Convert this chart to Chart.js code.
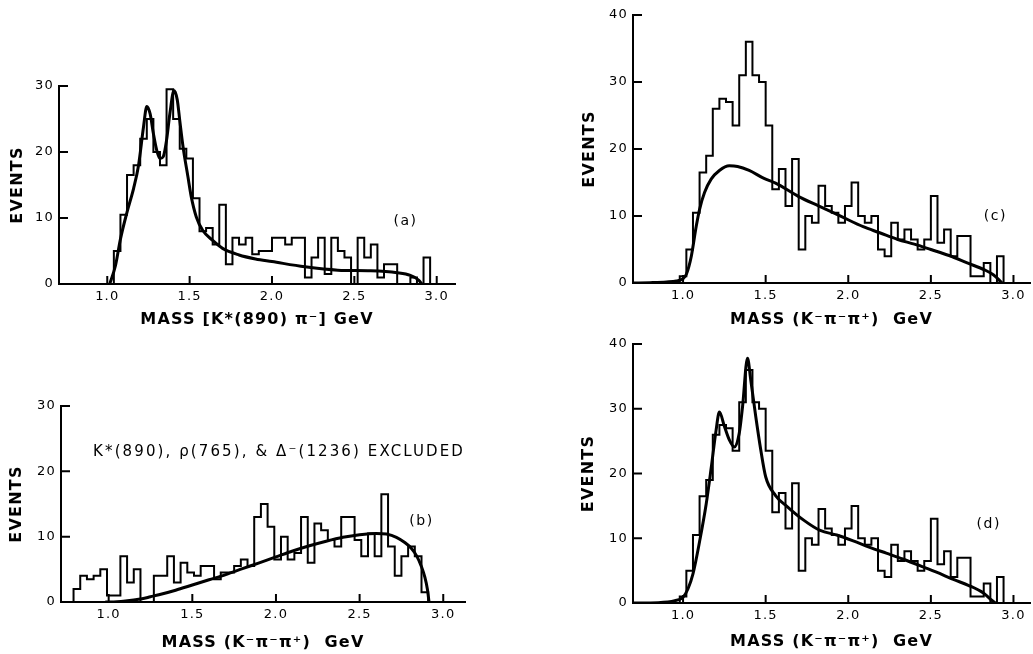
<!DOCTYPE html>
<html>
<head>
<meta charset="utf-8">
<script src="https://cdn.jsdelivr.net/npm/chart.js@4/dist/chart.umd.min.js"></script>
<style>
html, body { margin: 0; padding: 0; background: #fff; }
body { width: 1033px; height: 654px; position: relative; overflow: hidden; }
.panel { position: absolute; }
canvas { display: block; }
</style>
</head>
<body>
<div class="panel" style="left:0px;top:60px;"><canvas id="chartA" width="475" height="275"></canvas></div>
<div class="panel" style="left:560px;top:0px;"><canvas id="chartC" width="473" height="335"></canvas></div>
<div class="panel" style="left:0px;top:380px;"><canvas id="chartB" width="475" height="274"></canvas></div>
<div class="panel" style="left:560px;top:320px;"><canvas id="chartD" width="473" height="334"></canvas></div>
<script>
// ---------------- DATA ----------------
const binWidth = 0.04;                      // GeV per bin
const xTickValues = [1.0, 1.5, 2.0, 2.5, 3.0];
const yTicks30 = [0, 10, 20, 30];
const yTicks40 = [0, 10, 20, 30, 40];

// (a) K*(890) pi- mass
const aBinStart = 1.04;
const aCounts = [5, 10.5, 16.5, 18, 22, 25, 20, 18, 29.5, 25, 20.5, 19, 13, 8, 8.5, 6, 12, 3, 7, 6,
                 7, 4.5, 5, 5, 7, 7, 6, 7, 7, 1, 4, 7, 1.5, 7, 5, 4, 0, 7, 4, 6,
                 1, 3, 3, 0, 0, 1, 0, 4];
const aCurveX = [1.015, 1.05, 1.08, 1.12, 1.16, 1.19, 1.22, 1.24, 1.26, 1.28, 1.30, 1.32, 1.34, 1.36, 1.38,
                 1.405, 1.425, 1.44, 1.46, 1.49, 1.51, 1.54, 1.58, 1.64, 1.70, 1.80, 1.90, 2.00, 2.20, 2.40,
                 2.60, 2.76, 2.84, 2.89, 2.91];
const aCurveY = [0, 2.8, 6.8, 10.9, 14.5, 18, 23.8, 26.9, 25.8, 22.8, 20.3, 19, 19.3, 21.8, 25.8,
                 29.3, 27.9, 24.8, 20.8, 16.2, 13.2, 10.2, 8.1, 6.6, 5.4, 4.4, 3.8, 3.4, 2.6, 2.1,
                 2.0, 1.7, 1.3, 0.6, 0];

// (b) K- pi- pi+ mass, resonances excluded
const bBinStart = 0.79;
const bCounts = [2, 4, 3.5, 4, 5, 1, 1, 7, 3, 5, 0, 0, 4, 4, 7, 3, 6, 4.5, 4, 5.5,
                 5.5, 3.5, 4.5, 4.5, 5.5, 6.5, 5.5, 13, 15, 11.5, 6.5, 10, 6.5, 7.5, 13, 6, 12, 11, 9.5, 8.5,
                 13, 13, 9.5, 7, 10.5, 7, 16.5, 8.5, 4, 7, 8.5, 7, 1.5];
const bCurveX = [0.98, 1.05, 1.10, 1.15, 1.20, 1.25, 1.30, 1.40, 1.50, 1.60, 1.70, 1.80, 1.90, 2.00, 2.10,
                 2.20, 2.30, 2.40, 2.50, 2.60, 2.66, 2.72, 2.77, 2.81, 2.84, 2.87, 2.89, 2.905, 2.915];
const bCurveY = [0, 0.05, 0.15, 0.3, 0.5, 0.8, 1.1, 1.8, 2.6, 3.4, 4.2, 5.1, 6.0, 6.9, 7.8,
                 8.6, 9.3, 9.9, 10.3, 10.5, 10.4, 9.9, 9.1, 8.2, 7.1, 5.4, 3.8, 2.0, 0];

// (c) and (d) K- pi- pi+ mass (same histogram, two fits)
const cdBinStart = 0.98;
const cdCounts = [1, 5, 10.5, 16.5, 19, 26, 27.5, 27, 23.5, 31, 36, 31, 30, 23.5, 14, 17, 11.5, 18.5, 5, 10,
                  9, 14.5, 11.5, 10.5, 9, 11.5, 15, 10, 9, 10, 5, 4, 9, 6.5, 8, 6.5, 5, 6.5, 13, 6,
                  8, 4, 7, 7, 1, 1, 3, 0, 4];
const cCurveX = [0.70, 0.80, 0.90, 0.96, 1.00, 1.02, 1.05, 1.08, 1.10, 1.13, 1.17, 1.22, 1.28, 1.33, 1.40,
                 1.49, 1.56, 1.70, 1.82, 1.96, 2.09, 2.19, 2.30, 2.40, 2.50, 2.61, 2.72, 2.83, 2.88, 2.915, 2.93];
const cCurveY = [0, 0.05, 0.15, 0.3, 0.65, 1.3, 4, 8.5, 11, 13.5, 15.5, 16.8, 17.5, 17.4, 16.8,
                 15.6, 14.9, 12.9, 11.5, 9.9, 8.4, 7.5, 6.5, 5.8, 5.0, 4.1, 3.0, 1.9, 1.2, 0.4, 0];
const dCurveX = [0.70, 0.85, 0.95, 1.00, 1.03, 1.06, 1.10, 1.14, 1.17, 1.20, 1.22, 1.25, 1.28, 1.31, 1.34,
                 1.36, 1.39, 1.41, 1.44, 1.47, 1.50, 1.56, 1.63, 1.73, 1.83, 1.93, 2.03, 2.13, 2.23, 2.33,
                 2.43, 2.53, 2.64, 2.73, 2.82, 2.86, 2.89];
const dCurveY = [0, 0.05, 0.35, 0.9, 2.2, 4.5, 9.5, 15.3, 20.8, 26.7, 29.5, 27.3, 25.2, 24.1, 26.2,
                 30.3, 37.8, 34.4, 28.8, 23.7, 19.5, 16.6, 14.9, 12.8, 11.2, 10.5, 9.6, 8.6, 7.7, 6.8,
                 5.8, 4.8, 3.6, 2.7, 1.5, 0.6, 0];

// Texts
const yTitle = 'EVENTS';
const xTitleA = 'MASS [K*(890) π⁻] GeV';
const xTitleBCD = 'MASS (K⁻π⁻π⁺)  GeV';
const panelLabels = ['(a)', '(b)', '(c)', '(d)'];
const noteB = 'K*(890), ρ(765), & Δ⁻(1236) EXCLUDED';

// ---------------- HELPERS ----------------
const FONT = "'DejaVu Sans', 'Liberation Sans', sans-serif";

function histPoints(start, width, counts) {
  const pts = [{ x: start, y: 0 }];
  counts.forEach((c, i) => {
    pts.push({ x: +(start + i * width).toFixed(4), y: c });
    pts.push({ x: +(start + (i + 1) * width).toFixed(4), y: c });
  });
  pts.push({ x: +(start + counts.length * width).toFixed(4), y: 0 });
  return pts;
}
function curvePoints(xs, ys) { return xs.map((x, i) => ({ x: x, y: ys[i] })); }

const decor = {
  id: 'decor',
  beforeDraw(chart) { chart.ctx.letterSpacing = '1.2px'; },
  afterDraw(chart, args, opts) {
    const { ctx, chartArea: ca, scales } = chart;
    const xs = scales.x, ys = scales.y;
    ctx.save();
    ctx.strokeStyle = '#000';
    ctx.lineWidth = 2;
    ctx.beginPath();
    xs.ticks.forEach(t => {
      const px = xs.getPixelForValue(t.value);
      ctx.moveTo(px, ca.bottom); ctx.lineTo(px, ca.bottom - 8);
    });
    ys.ticks.forEach(t => {
      if (t.value === 0) return;
      const py = ys.getPixelForValue(t.value);
      ctx.moveTo(ca.left, py); ctx.lineTo(ca.left + 9, py);
    });
    ctx.stroke();
    ctx.fillStyle = '#000';
    ctx.textBaseline = 'middle';
    (opts.texts || []).forEach(tx => {
      ctx.font = tx.font;
      ctx.letterSpacing = tx.spacing || '1.5px';
      ctx.textAlign = tx.align || 'center';
      ctx.fillText(tx.text, xs.getPixelForValue(tx.x), ys.getPixelForValue(tx.y));
    });
    ctx.restore();
  }
};

function makeChart(id, p) {
  return new Chart(document.getElementById(id), {
    type: 'line',
    data: {
      datasets: [
        { data: histPoints(p.binStart, binWidth, p.counts), borderColor: '#000', borderWidth: 2,
          pointRadius: 0, tension: 0, fill: false },
        { data: curvePoints(p.curveX, p.curveY), borderColor: '#000', borderWidth: 3,
          pointRadius: 0, cubicInterpolationMode: 'monotone', fill: false }
      ]
    },
    options: {
      responsive: false,
      animation: false,
      events: [],
      layout: { padding: p.padding },
      plugins: {
        legend: { display: false },
        tooltip: { enabled: false },
        decor: { texts: p.texts }
      },
      scales: {
        x: {
          type: 'linear', min: p.xMin, max: p.xMax,
          grid: { display: false, drawTicks: false },
          border: { display: true, color: '#000', width: 2 },
          afterBuildTicks: s => { s.ticks = xTickValues.map(v => ({ value: v })); },
          afterFit: s => { s.height = p.xAxisHeight; },
          ticks: { color: '#000', font: { family: FONT, size: 13 }, padding: 5, maxRotation: 0,
                   autoSkip: false, callback: v => v.toFixed(1) },
          title: { display: true, text: p.xTitle, color: '#000',
                   font: { family: FONT, size: 16, weight: 'bold' }, padding: { top: 0, bottom: p.xTitlePad } }
        },
        y: {
          type: 'linear', min: 0, max: p.yMax,
          grid: { display: false, drawTicks: false },
          border: { display: true, color: '#000', width: 2 },
          afterBuildTicks: s => { s.ticks = p.yTicks.map(v => ({ value: v })); },
          afterFit: s => { s.width = p.yAxisWidth; },
          ticks: { color: '#000', font: { family: FONT, size: 13 }, padding: 5,
                   callback: v => String(v) },
          title: { display: true, text: yTitle, color: '#000',
                   font: { family: FONT, size: 16, weight: 'bold' }, padding: { top: p.yTitlePad, bottom: 0 } }
        }
      }
    },
    plugins: [decor]
  });
}

const labelFont = "14px 'DejaVu Sans', sans-serif";

makeChart('chartA', {
  binStart: aBinStart, counts: aCounts, curveX: aCurveX, curveY: aCurveY,
  xMin: 0.707, xMax: 3.111, yMax: 30, yTicks: yTicks30,
  padding: { top: 26, right: 20, left: 0, bottom: 0 },
  xAxisHeight: 51, yAxisWidth: 59, xTitle: xTitleA, xTitlePad: 6, yTitlePad: 8.7,
  texts: [{ text: panelLabels[0], x: 2.81, y: 9.5, font: labelFont }]
});
makeChart('chartB', {
  binStart: bBinStart, counts: bCounts, curveX: bCurveX, curveY: bCurveY,
  xMin: 0.715, xMax: 3.13, yMax: 30, yTicks: yTicks30,
  padding: { top: 26, right: 10, left: 0, bottom: 0 },
  xAxisHeight: 52, yAxisWidth: 61, xTitle: xTitleBCD, xTitlePad: 2, yTitlePad: 7,
  texts: [{ text: panelLabels[1], x: 2.87, y: 12.3, font: labelFont },
          { text: noteB, x: 0.907, y: 22.9, font: "15px 'DejaVu Sans', sans-serif", align: 'left', spacing: '2.1px' }]
});
makeChart('chartC', {
  binStart: cdBinStart, counts: cdCounts, curveX: cCurveX, curveY: cCurveY,
  xMin: 0.697, xMax: 3.10, yMax: 40, yTicks: yTicks40,
  padding: { top: 15, right: 3, left: 0, bottom: 0 },
  xAxisHeight: 52, yAxisWidth: 73, xTitle: xTitleBCD, xTitlePad: 6, yTitlePad: 20.4,
  texts: [{ text: panelLabels[2], x: 2.89, y: 9.9, font: labelFont }]
});
makeChart('chartD', {
  binStart: cdBinStart, counts: cdCounts, curveX: dCurveX, curveY: dCurveY,
  xMin: 0.697, xMax: 3.10, yMax: 40, yTicks: yTicks40,
  padding: { top: 24, right: 3, left: 0, bottom: 0 },
  xAxisHeight: 51, yAxisWidth: 73, xTitle: xTitleBCD, xTitlePad: 3, yTitlePad: 19.4,
  texts: [{ text: panelLabels[3], x: 2.85, y: 12.1, font: labelFont }]
});
</script>
</body>
</html>
